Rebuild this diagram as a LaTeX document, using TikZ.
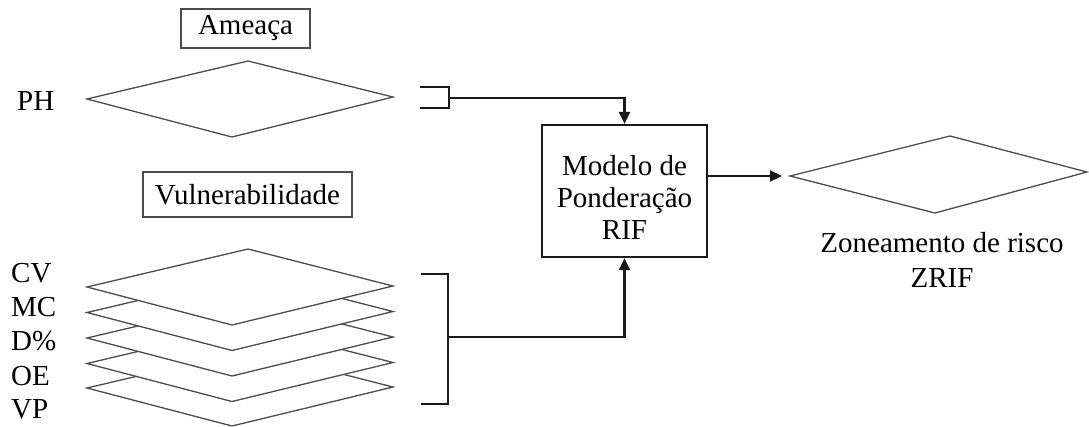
\documentclass[tikz,border=0pt]{standalone}
\usepackage{fontspec}
\setmainfont{Liberation Serif}
\usetikzlibrary{arrows.meta}
\begin{document}
\begin{tikzpicture}[x=1pt,y=-1pt,
  txt/.style={font=\fontsize{29}{32}\selectfont, inner sep=0pt},
  titlebox/.style={draw=black!70, line width=1.2pt, inner sep=0pt, font=\fontsize{29}{32}\selectfont},
  layer/.style={draw=black!70, line width=1.3pt, fill=white, line join=miter},
  conn/.style={draw=black!90, line width=2.2pt},
  arr/.style={conn, -{Triangle[length=12pt,width=11pt]}},
  modelbox/.style={draw=black!90, line width=2.2pt, minimum width=165pt, minimum height=132pt, inner sep=0pt}
]
\useasboundingbox (0,0) rectangle (1089,426);

% Titles
\node[titlebox, minimum width=129pt, minimum height=39pt] (ameaca) at (245.5,28.5) {Ameaça};
\node[titlebox, minimum width=209pt, minimum height=45pt] (vuln) at (247.5,194.5) {Vulnerabilidade};

% Hazard layer
\node[txt, anchor=base west] (ph) at (17,110) {PH};
\draw[layer] (87,99) -- (248,61) -- (393,97) -- (232,137) -- cycle;

% Vulnerability layers (bottom to top)
\foreach \y in {388,363.5,338,312.5,287}{
  \draw[layer] (87,\y) -- (248,\y-38) -- (393,\y-1) -- (232,\y+38) -- cycle;
}
\node[txt, anchor=base west] (cv) at (11,282) {CV};
\node[txt, anchor=base west] (mc) at (11,316) {MC};
\node[txt, anchor=base west] (dp) at (11,350) {D\%};
\node[txt, anchor=base west] (oe) at (11,385) {OE};
\node[txt, anchor=base west] (vp) at (11,418) {VP};

% Model box
\node[modelbox] (model) at (624.5,191) {};
\node[txt, align=center, anchor=base] (modeltext) at (624.5,239) {Modelo de\\Ponderação\\RIF};

% Brackets
\coordinate (pht) at (420,87);
\coordinate (phbr) at (449,98);
\coordinate (phbt) at (420,108);
\draw[conn] (pht) -- (pht -| phbr) -- (phbt -| phbr) -- (phbt);
\draw[arr] (phbr) -| (model.north);

\coordinate (vt) at (421,274);
\coordinate (vm) at (448,337);
\coordinate (vb) at (421,404);
\draw[conn] (vt) -- (vt -| vm) -- (vb -| vm) -- (vb);
\draw[arr] (vm) -| (model.south);

% Output
\coordinate (zleft) at (790,176);
\draw[layer] (zleft) -- (950,136) -- (1087,172) -- (935,213) -- cycle;
\draw[arr, shorten >=8pt] (model.east |- zleft) -- (zleft);
\node[txt, align=center, anchor=base, font=\fontsize{29}{35}\selectfont] (zrif) at (942,287) {Zoneamento de risco\\ZRIF};
\end{tikzpicture}
\end{document}
